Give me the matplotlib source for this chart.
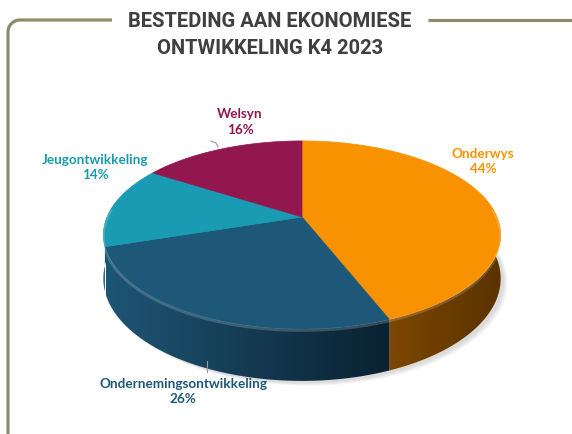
import numpy as np
import matplotlib.pyplot as plt
from matplotlib.colors import LinearSegmentedColormap
from matplotlib.patches import Polygon

# Data
kategorie = ['Onderwys', 'Ondernemingsontwikkeling', 'Jeugontwikkeling', 'Welsyn']
persentasie = [44, 26, 14, 16]
kleur_bo = ['#F99200', '#1D5878', '#1A9BB4', '#93174F']
kleur_kant_lig = ['#7C4700', '#1E5575', '#14657A', '#74103E']
kleur_kant_donker = ['#5A3300', '#0A2130', '#0E4B5C', '#4A0A28']
kleur_teks = ['#F99200', '#1D5878', '#1A9BAA', '#93174F']

titel = 'BESTEDING AAN EKONOMIESE\nONTWIKKELING K4 2023'

# Projection of the tilted pie (pixel coordinates)
cx, cy = 302, 218
A, B, k, D = 195, 90.6, 0.191, 42


def projek(theta, z=0.0):
    x, y = np.cos(theta), np.sin(theta)
    w = 1 + k * y
    return cx + A * x / w, cy - B * y / w + z * D / w


fig = plt.figure(figsize=(5.72, 4.35), dpi=100)
ax = fig.add_axes([0, 0, 1, 1])

# raam met geronde hoek
r = 12
hoek = np.linspace(np.pi, 1.5 * np.pi, 20)
fx = np.concatenate([[8], 8 + r + r * np.cos(hoek), [112]])
fy = np.concatenate([[435], 21 + r + r * np.sin(hoek), [21]])
ax.plot(fx, fy, color='#8B8C6A', lw=2.3, solid_capstyle='butt')
ax.plot([428, 572], [21, 21], color='#8B8C6A', lw=2.3, solid_capstyle='butt')

# hoeke van die snitte (begin bo, kloksgewys)
grense = np.radians(90 - 3.6 * np.concatenate([[0], np.cumsum(persentasie)]))

# sagte skaduwee
t = np.linspace(0, 2 * np.pi, 200)
for s in np.linspace(1.0, 0.0, 6):
    sx, sy = projek(t, 1.0)
    ax.fill(sx + 3 + 4 * s, sy + 2 + 3 * s, color='black', alpha=0.025, lw=0, zorder=1)

# sywande: net die sigbare voorkant
lo, hi = np.radians(-186), np.radians(6)
for i in range(len(persentasie)):
    a1, a0 = grense[i + 1], grense[i]
    b0, b1 = max(a1, lo), min(a0, hi)
    if b0 >= b1:
        continue
    tt = np.linspace(b0, b1, 80)
    x_bo, y_bo = projek(tt, 0)
    x_on, y_on = projek(tt[::-1], 1)
    pts = np.column_stack([np.concatenate([x_bo, x_on]), np.concatenate([y_bo, y_on])])
    poly = Polygon(pts, closed=True, fc='none', ec='none', zorder=2)
    ax.add_patch(poly)
    cmap = LinearSegmentedColormap.from_list('k%d' % i, [kleur_kant_lig[i], kleur_kant_donker[i]])
    grad = np.linspace(0, 1, 256).reshape(1, -1)
    x_l, x_r = pts[:, 0].min(), pts[:, 0].max()
    if i == 1:
        x_l = cx - A
    im = ax.imshow(grad, cmap=cmap, extent=(x_l - 1, x_r + 1, 435, 0),
                   aspect='auto', interpolation='bilinear', zorder=3)
    im.set_clip_path(poly)

# bokant
for i in range(len(persentasie)):
    tt = np.linspace(grense[i], grense[i + 1], 100)
    px, py = projek(tt, 0)
    ax.fill(np.concatenate([[cx], px]), np.concatenate([[cy], py]),
            color=kleur_bo[i], lw=0.5, ec=kleur_bo[i], zorder=4)

# ligte rand voor
tt = np.linspace(np.radians(-185), np.radians(5), 120)
px, py = projek(tt, 0)
ax.plot(px, py + 1.5, color='white', alpha=0.18, lw=2, zorder=5)

ax.set_xlim(0, 572)
ax.set_ylim(435, 0)
ax.axis('off')

# etikette
etikette = [(483, 162), (183, 392), (95, 168), (240, 122)]
for i, (lx, ly) in enumerate(etikette):
    ax.text(lx, ly, f'{kategorie[i]}\n{persentasie[i]}%', ha='center', va='center',
            fontsize=9.7, fontweight='bold', color=kleur_teks[i], family='Lato',
            linespacing=1.3, zorder=6)

# leierlyne
ax.plot([211, 216, 218], [142, 144, 148], color='#9A9A9A', lw=0.8, zorder=6)
ax.plot([207, 207], [362, 373], color='#9A9A9A', lw=0.8, zorder=6)

ax.text(270, 35, titel, ha='center', va='center', fontsize=14.5, fontweight='bold',
        color='#3F3F3F', family='Roboto', linespacing=1.5, zorder=6)

fig.savefig('out.png', dpi=100)
